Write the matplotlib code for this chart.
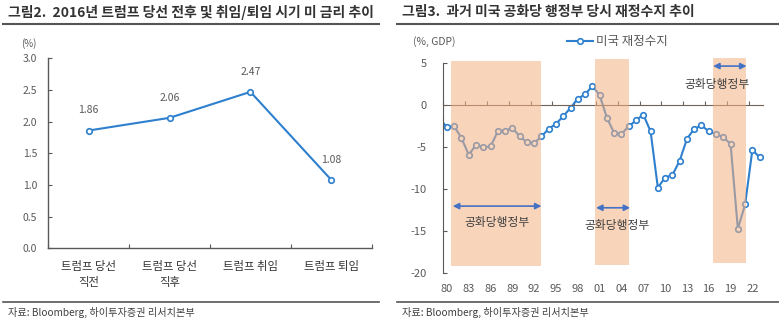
import matplotlib
matplotlib.use("Agg")
import matplotlib.pyplot as plt
from matplotlib.lines import Line2D
from matplotlib.patches import Rectangle

plt.rcParams['font.family'] = ['Noto Sans CJK KR', 'DejaVu Sans']

# ---------------- data ----------------
rate_categories = ['트럼프 당선\n직전', '트럼프 당선\n직후', '트럼프 취임', '트럼프 퇴임']
rate_values = [1.86, 2.06, 2.47, 1.08]
rate_yticks = [0.0, 0.5, 1.0, 1.5, 2.0, 2.5, 3.0]

years = list(range(1979, 2024))
balance = [-1.6, -2.6, -2.5, -3.9, -5.9, -4.7, -5.0, -4.9, -3.1, -3.0,
           -2.7, -3.7, -4.4, -4.5, -3.7, -2.8, -2.2, -1.3, -0.3, 0.8,
           1.3, 2.3, 1.2, -1.5, -3.3, -3.4, -2.5, -1.8, -1.1, -3.1,
           -9.8, -8.6, -8.3, -6.6, -4.0, -2.8, -2.4, -3.1, -3.4, -3.8,
           -4.6, -14.7, -11.8, -5.3, -6.2]
label_years = list(range(1980, 2023, 3))
label_texts = ['%02d' % (y % 100) for y in label_years]
bal_yticks = [-20, -15, -10, -5, 0, 5]

# Republican administration periods (start, end, bottom, top)
rep_periods = [(1980.6, 1992.9, -19.1, 5.27),
               (2000.4, 2005.1, -19.0, 5.46),
               (2016.6, 2021.1, -18.8, 5.67)]
rep_arrows = [(1980.8, 1993.0, -12.0), (2000.5, 2005.2, -12.2), (2016.6, 2021.2, 4.67)]
rep_labels = [(1986.9, -13.9), (2003.4, -14.3), (2017.2, 2.46)]
rep_text = '공화당행정부'

# ---------------- styles ----------------
BLUE = '#2E80CE'
AX = '#595959'
TXT = '#595959'
DARK = '#404040'

fig = plt.figure(figsize=(7.79, 3.23), dpi=100)

# titles and rules
fig.text(8/779, 1-12/323, '그림2.  2016년 트럼프 당선 전후 및 취임/퇴임 시기 미 금리 추이',
         fontsize=10, color='#333333', va='center', ha='left', fontweight='bold')
fig.text(402/779, 1-12/323, '그림3.  과거 미국 공화당 행정부 당시 재정수지 추이',
         fontsize=10, color='#333333', va='center', ha='left', fontweight='bold')
for x0, x1 in [(3, 379), (397, 779)]:
    fig.add_artist(Line2D([x0/779, x1/779], [1-23.5/323, 1-23.5/323],
                          transform=fig.transFigure, color='#555555', lw=1.5))
    fig.add_artist(Line2D([x0/779, x1/779], [1-301.7/323, 1-301.7/323],
                          transform=fig.transFigure, color='#555555', lw=1.2))
fig.text(8/779, 1-312.5/323, '자료: Bloomberg, 하이투자증권 리서치본부', fontsize=7.3,
         color=DARK, va='center', ha='left')
fig.text(402/779, 1-312.5/323, '자료: Bloomberg, 하이투자증권 리서치본부', fontsize=7.3,
         color=DARK, va='center', ha='left')

# ---------------- left chart ----------------
ax1 = fig.add_axes([48.3/779, 1-248.3/323, (371.7-48.3)/779, (248.3-58.3)/323])
xpos = list(range(len(rate_values)))
ax1.plot(xpos, rate_values, color=BLUE, lw=1.5, marker='o', markersize=4,
         markerfacecolor='white', markeredgecolor=BLUE, markeredgewidth=1.2,
         clip_on=False, zorder=3)
for x, v in zip(xpos, rate_values):
    ax1.annotate('%.2f' % v, (x, v), xytext=(0, 11), textcoords='offset points',
                 ha='center', va='bottom', fontsize=7.5, color=TXT)
ax1.set_xlim(-0.5, len(rate_values) - 0.5)
ax1.set_ylim(0, 3.0)
ax1.set_yticks(rate_yticks)
ax1.set_yticklabels(['%.1f' % t for t in rate_yticks])
ax1.set_xticks([x - 0.5 for x in range(len(rate_values) + 1)], minor=False)
ax1.set_xticklabels([''] * (len(rate_values) + 1))
ax1.set_xticks(xpos, minor=True)
ax1.set_xticklabels(rate_categories, minor=True)
ax1.tick_params(axis='x', which='minor', length=0, pad=9, labelsize=8.2,
                labelcolor='#333333')
ax1.tick_params(axis='x', which='major', direction='in', length=3, color=AX)
ax1.tick_params(axis='y', direction='in', length=3, color=AX, labelsize=7.5,
                labelcolor=TXT, pad=8)
for lbl in ax1.get_xticklabels(minor=True):
    lbl.set_linespacing(1.6)
for s in ['top', 'right']:
    ax1.spines[s].set_visible(False)
for s in ['left', 'bottom']:
    ax1.spines[s].set_color(AX)
    ax1.spines[s].set_linewidth(1.0)
ax1.patch.set_alpha(0)
fig.text(28.5/779, 1-44/323, '(%)', fontsize=7, color=TXT, ha='center', va='center')

# ---------------- right chart ----------------
ax2 = fig.add_axes([443.3/779, 1-273.3/323, (763.3-443.3)/779, (273.3-63.3)/323])
ax2.plot(years, balance, color=BLUE, lw=1.5, marker='o', markersize=4,
         markerfacecolor='white', markeredgecolor=BLUE, markeredgewidth=1.2,
         zorder=2, label='미국 재정수지')
for (x0, x1, b, t) in rep_periods:
    ax2.add_patch(Rectangle((x0, b), x1 - x0, t - b, facecolor='#F4B183',
                            edgecolor='none', alpha=0.55, zorder=4, clip_on=False))
for (x0, x1, y) in rep_arrows:
    ax2.annotate('', xy=(x1, y), xytext=(x0, y),
                 arrowprops=dict(arrowstyle='<|-|>', color='#4472C4', lw=1.2,
                                 mutation_scale=9, shrinkA=0, shrinkB=0),
                 annotation_clip=False, zorder=5)
for (x, y) in rep_labels:
    ax2.text(x, y, rep_text, fontsize=8.5, color=DARK, ha='center', va='center', zorder=5)

ax2.set_xlim(1979.5, 2023.5)
ax2.set_ylim(-20, 5)
ax2.set_yticks(bal_yticks)
ax2.set_yticklabels([str(t) for t in bal_yticks])
ax2.tick_params(axis='y', direction='in', length=3, color=AX, labelsize=8,
                labelcolor=TXT, pad=12)
ax2.spines['bottom'].set_position(('data', 0))
ax2.spines['bottom'].set_color('#6E6259')
ax2.spines['bottom'].set_zorder(3)
ax2.set_xticks([1979.5 + 3 * k for k in range(15)])
ax2.tick_params(axis='x', direction='in', length=3, color='#6E6259', labelbottom=False)
for s in ['top', 'right']:
    ax2.spines[s].set_visible(False)
ax2.spines['left'].set_color(AX)
ax2.patch.set_alpha(0)

sec = ax2.secondary_xaxis(0.0)
sec.set_xticks(label_years)
sec.set_xticklabels(label_texts)
sec.tick_params(axis='x', length=0, labelsize=8, labelcolor=TXT, pad=8)
sec.spines['bottom'].set_visible(False)

fig.text(413/779, 1-42/323, '(%, GDP)', fontsize=7.5, color=TXT, ha='left', va='center')
leg = ax2.legend(loc='center left', bbox_to_anchor=(567/779, 1-42/323),
                 bbox_transform=fig.transFigure, frameon=False, fontsize=9,
                 handlelength=2.1, handletextpad=0.25, borderpad=0, borderaxespad=0)
for t in leg.get_texts():
    t.set_color(TXT)

fig.savefig('out.png', dpi=100)
